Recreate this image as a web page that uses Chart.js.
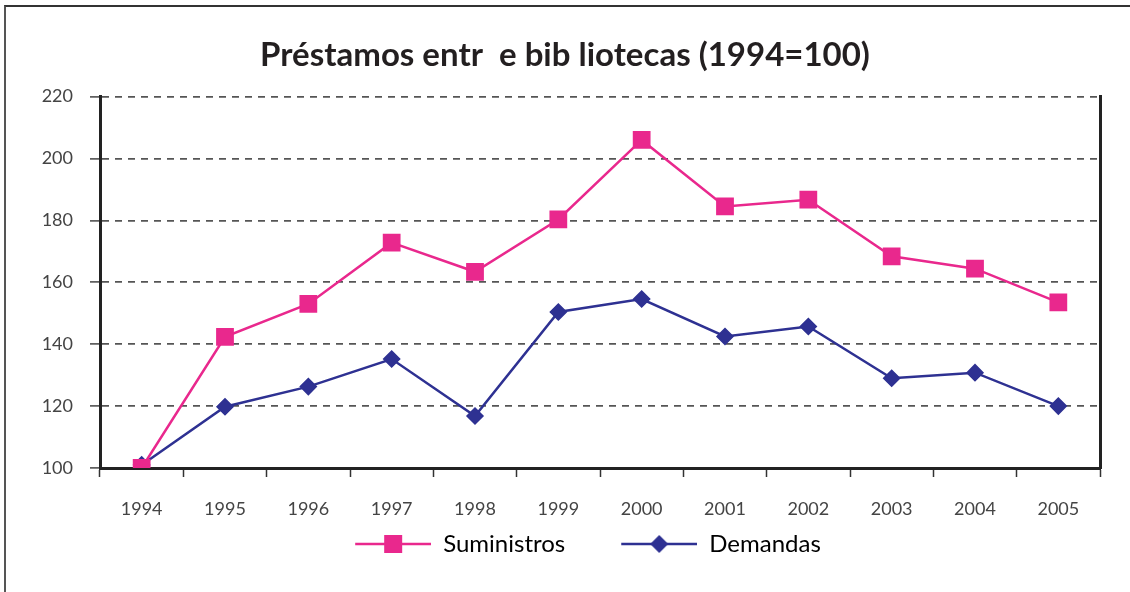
<!DOCTYPE html>
<html>
<head>
<meta charset="utf-8">
<script src="https://cdn.jsdelivr.net/npm/chart.js@4/dist/chart.umd.min.js"></script>
<style>
  html, body { margin: 0; padding: 0; background: #ffffff; }
  #wrap { position: relative; width: 1130px; height: 592px; overflow: hidden; background: #fff; }
  #frame { position: absolute; left: 4px; top: 5px; width: 1140px; height: 600px;
           border-left: 2px solid #555; border-top: 2px solid #333; box-sizing: border-box; }
  #c { position: absolute; left: 0; top: 0; }
</style>
</head>
<body>
<div id="wrap">
  <div id="frame"></div>
  <canvas id="c" width="1130" height="592"></canvas>
</div>
<script>
// ---- data ----
const years = ['1994','1995','1996','1997','1998','1999','2000','2001','2002','2003','2004','2005'];
const suministros = [100, 142.4, 153, 172.8, 163.4, 180.3, 206, 184.5, 186.7, 168.4, 164.4, 153.5];
const demandas = [101, 119.8, 126.3, 135.2, 116.8, 150.4, 154.6, 142.5, 145.7, 129, 130.8, 120];
const yTicks = [100, 120, 140, 160, 180, 200, 220];
const seriesNames = ['Suministros', 'Demandas'];
const titleText = 'Préstamos entr  e bib liotecas (1994=100)';

const PINK = '#E9288D';
const BLUE = '#2E3192';
const FONT = 'Lato, "Open Sans", sans-serif';

// legend sample images (line + marker)
const LEG_MARGIN = 46, LEG_LINE = 76, LEG_H = 22;
function legendImage(color, style) {
  const c = document.createElement('canvas');
  c.width = LEG_MARGIN + LEG_LINE; c.height = LEG_H;
  const g = c.getContext('2d');
  const cy = LEG_H / 2, cx = LEG_MARGIN + LEG_LINE / 2;
  g.strokeStyle = color; g.lineWidth = 2.5;
  g.beginPath(); g.moveTo(LEG_MARGIN, cy); g.lineTo(LEG_MARGIN + LEG_LINE, cy); g.stroke();
  g.fillStyle = color;
  if (style === 'rect') {
    g.fillRect(cx - 9, cy - 9, 18, 18);
  } else {
    g.beginPath();
    g.moveTo(cx, cy - 9); g.lineTo(cx + 9, cy); g.lineTo(cx, cy + 9); g.lineTo(cx - 9, cy);
    g.closePath(); g.fill();
  }
  return c;
}
const legImgs = [legendImage(PINK, 'rect'), legendImage(BLUE, 'diamond')];

new Chart(document.getElementById('c'), {
  type: 'line',
  data: {
    labels: years,
    datasets: [
      {
        label: seriesNames[0], data: suministros,
        borderColor: PINK, backgroundColor: PINK, borderWidth: 2.5,
        pointStyle: 'rect', pointRadius: 11.5, pointBorderWidth: 1.5,
        pointBackgroundColor: PINK, pointBorderColor: PINK, tension: 0
      },
      {
        label: seriesNames[1], data: demandas,
        borderColor: BLUE, backgroundColor: BLUE, borderWidth: 2.5,
        pointStyle: 'rectRot', pointRadius: 8, pointBorderWidth: 1.5,
        pointBackgroundColor: BLUE, pointBorderColor: BLUE, tension: 0
      }
    ]
  },
  options: {
    responsive: false,
    animation: false,
    layout: { padding: { left: 0, right: 0, top: 0, bottom: 26 } },
    plugins: {
      tooltip: { enabled: false },
      title: {
        display: true, text: titleText, color: '#231F20',
        font: { family: FONT, size: 33, weight: 'bold' },
        padding: { top: 36, bottom: 21 }
      },
      legend: {
        display: true, position: 'bottom',
        labels: {
          usePointStyle: true, pointStyleWidth: LEG_MARGIN + LEG_LINE,
          padding: 10, color: '#231F20',
          font: { family: FONT, size: 24 },
          generateLabels: (chart) => chart.data.datasets.map((ds, i) => ({
            text: ds.label, pointStyle: legImgs[i], fillStyle: ds.borderColor,
            strokeStyle: ds.borderColor, lineWidth: 0, hidden: false, datasetIndex: i
          }))
        }
      }
    },
    scales: {
      x: {
        type: 'category', offset: true,
        grid: { display: true, offset: true, drawOnChartArea: false, drawTicks: true,
                tickLength: 9, tickColor: '#333', tickWidth: 1.5 },
        border: { display: true, color: '#222', width: 3 },
        ticks: { color: '#444', font: { family: FONT, size: 18 }, padding: 21, maxRotation: 0 },
        afterFit: (s) => { s.height = 54; }
      },
      y: {
        type: 'linear', position: 'left', min: 100, max: 220,
        afterBuildTicks: (s) => { s.ticks = yTicks.map(v => ({ value: v })); },
        grid: { display: true, color: '#555555', lineWidth: 1.8,
                drawTicks: true, tickLength: 10, tickBorderDash: [], tickColor: '#444', tickWidth: 1.5 },
        border: { display: true, color: '#222', width: 3, dash: [7, 6] },
        ticks: { color: '#444', font: { family: FONT, size: 18 }, padding: 17 },
        afterFit: (s) => { s.width = 100; }
      },
      y2: {
        type: 'linear', position: 'right', min: 100, max: 220,
        grid: { display: false, drawOnChartArea: false, drawTicks: false },
        border: { display: true, color: '#222', width: 3 },
        ticks: { display: false },
        afterFit: (s) => { s.width = 30; }
      }
    }
  }
});
</script>
</body>
</html>
